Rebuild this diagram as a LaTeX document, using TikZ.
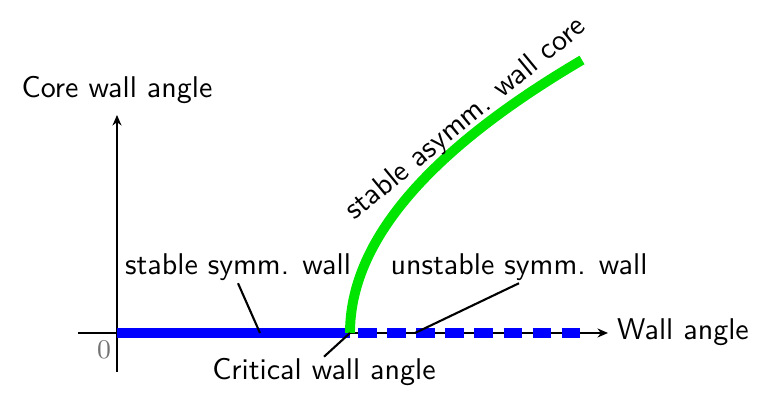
\documentclass[tikz,border=0pt]{standalone}
\usetikzlibrary{arrows.meta}
\begin{document}
\begin{tikzpicture}[x=0.3333pt,y=-0.3333pt,font=\sffamily,
  axis/.style={line width=0.7pt,-{Stealth[length=3.5pt,width=3pt]}},
  leader/.style={line width=0.7pt},
  lbl/.style={inner sep=0.5pt},
  bluesolid/.style={blue,line width=3.3pt},
  bluedash/.style={blue,line width=3.3pt,dash pattern=on 6.2pt off 3.5pt},
  greencurve/.style={green!90!black,line width=3.3pt}]
\useasboundingbox (0,0) rectangle (768,410);
\coordinate (O) at (117,333);
\coordinate (crit) at (350,333);
\coordinate (dstart) at (358,333);
\coordinate (dend) at (583,333);
\coordinate (ps) at (260,333);
\coordinate (pu) at (415,333);
\coordinate (xstart) at (78,333);
\coordinate (xend) at (608,333);
\coordinate (ystart) at (117,372);
\coordinate (yend) at (117,115);
\coordinate (gend) at (582,60);
% axes
\draw[axis] (xstart) -- (xend);
\draw[axis] (ystart) -- (yend);
% blue lines
\draw[bluesolid] (O) -- (crit);
\draw[bluedash] (dstart) -- (dend);
% green curve
\draw[greencurve] (crit) .. controls (350,242) and (427.3,151) .. (gend);
% labels
\node[lbl,anchor=base] (yl) at (117,98) {Core wall angle};
\node[lbl,anchor=base west] (xl) at (615,340) {Wall angle};
\node[lbl,font=\rmfamily\small,text=black!55] (zero) at (104,350) {0};
\node[lbl,anchor=base] (sl) at (238,275) {stable symm. wall};
\node[lbl,anchor=base] (ul) at (519,275) {unstable symm. wall};
\node[lbl,anchor=base] (cl) at (324,380) {Critical wall angle};
\node[lbl,anchor=base,rotate=39.5] (al) at (471,125) {stable asymm. wall core};
% leaders
\draw[leader] (sl.south) -- (ps);
\draw[leader] (ul.south) -- (pu);
\draw[leader] (cl.north) -- (crit);
\end{tikzpicture}
\end{document}
